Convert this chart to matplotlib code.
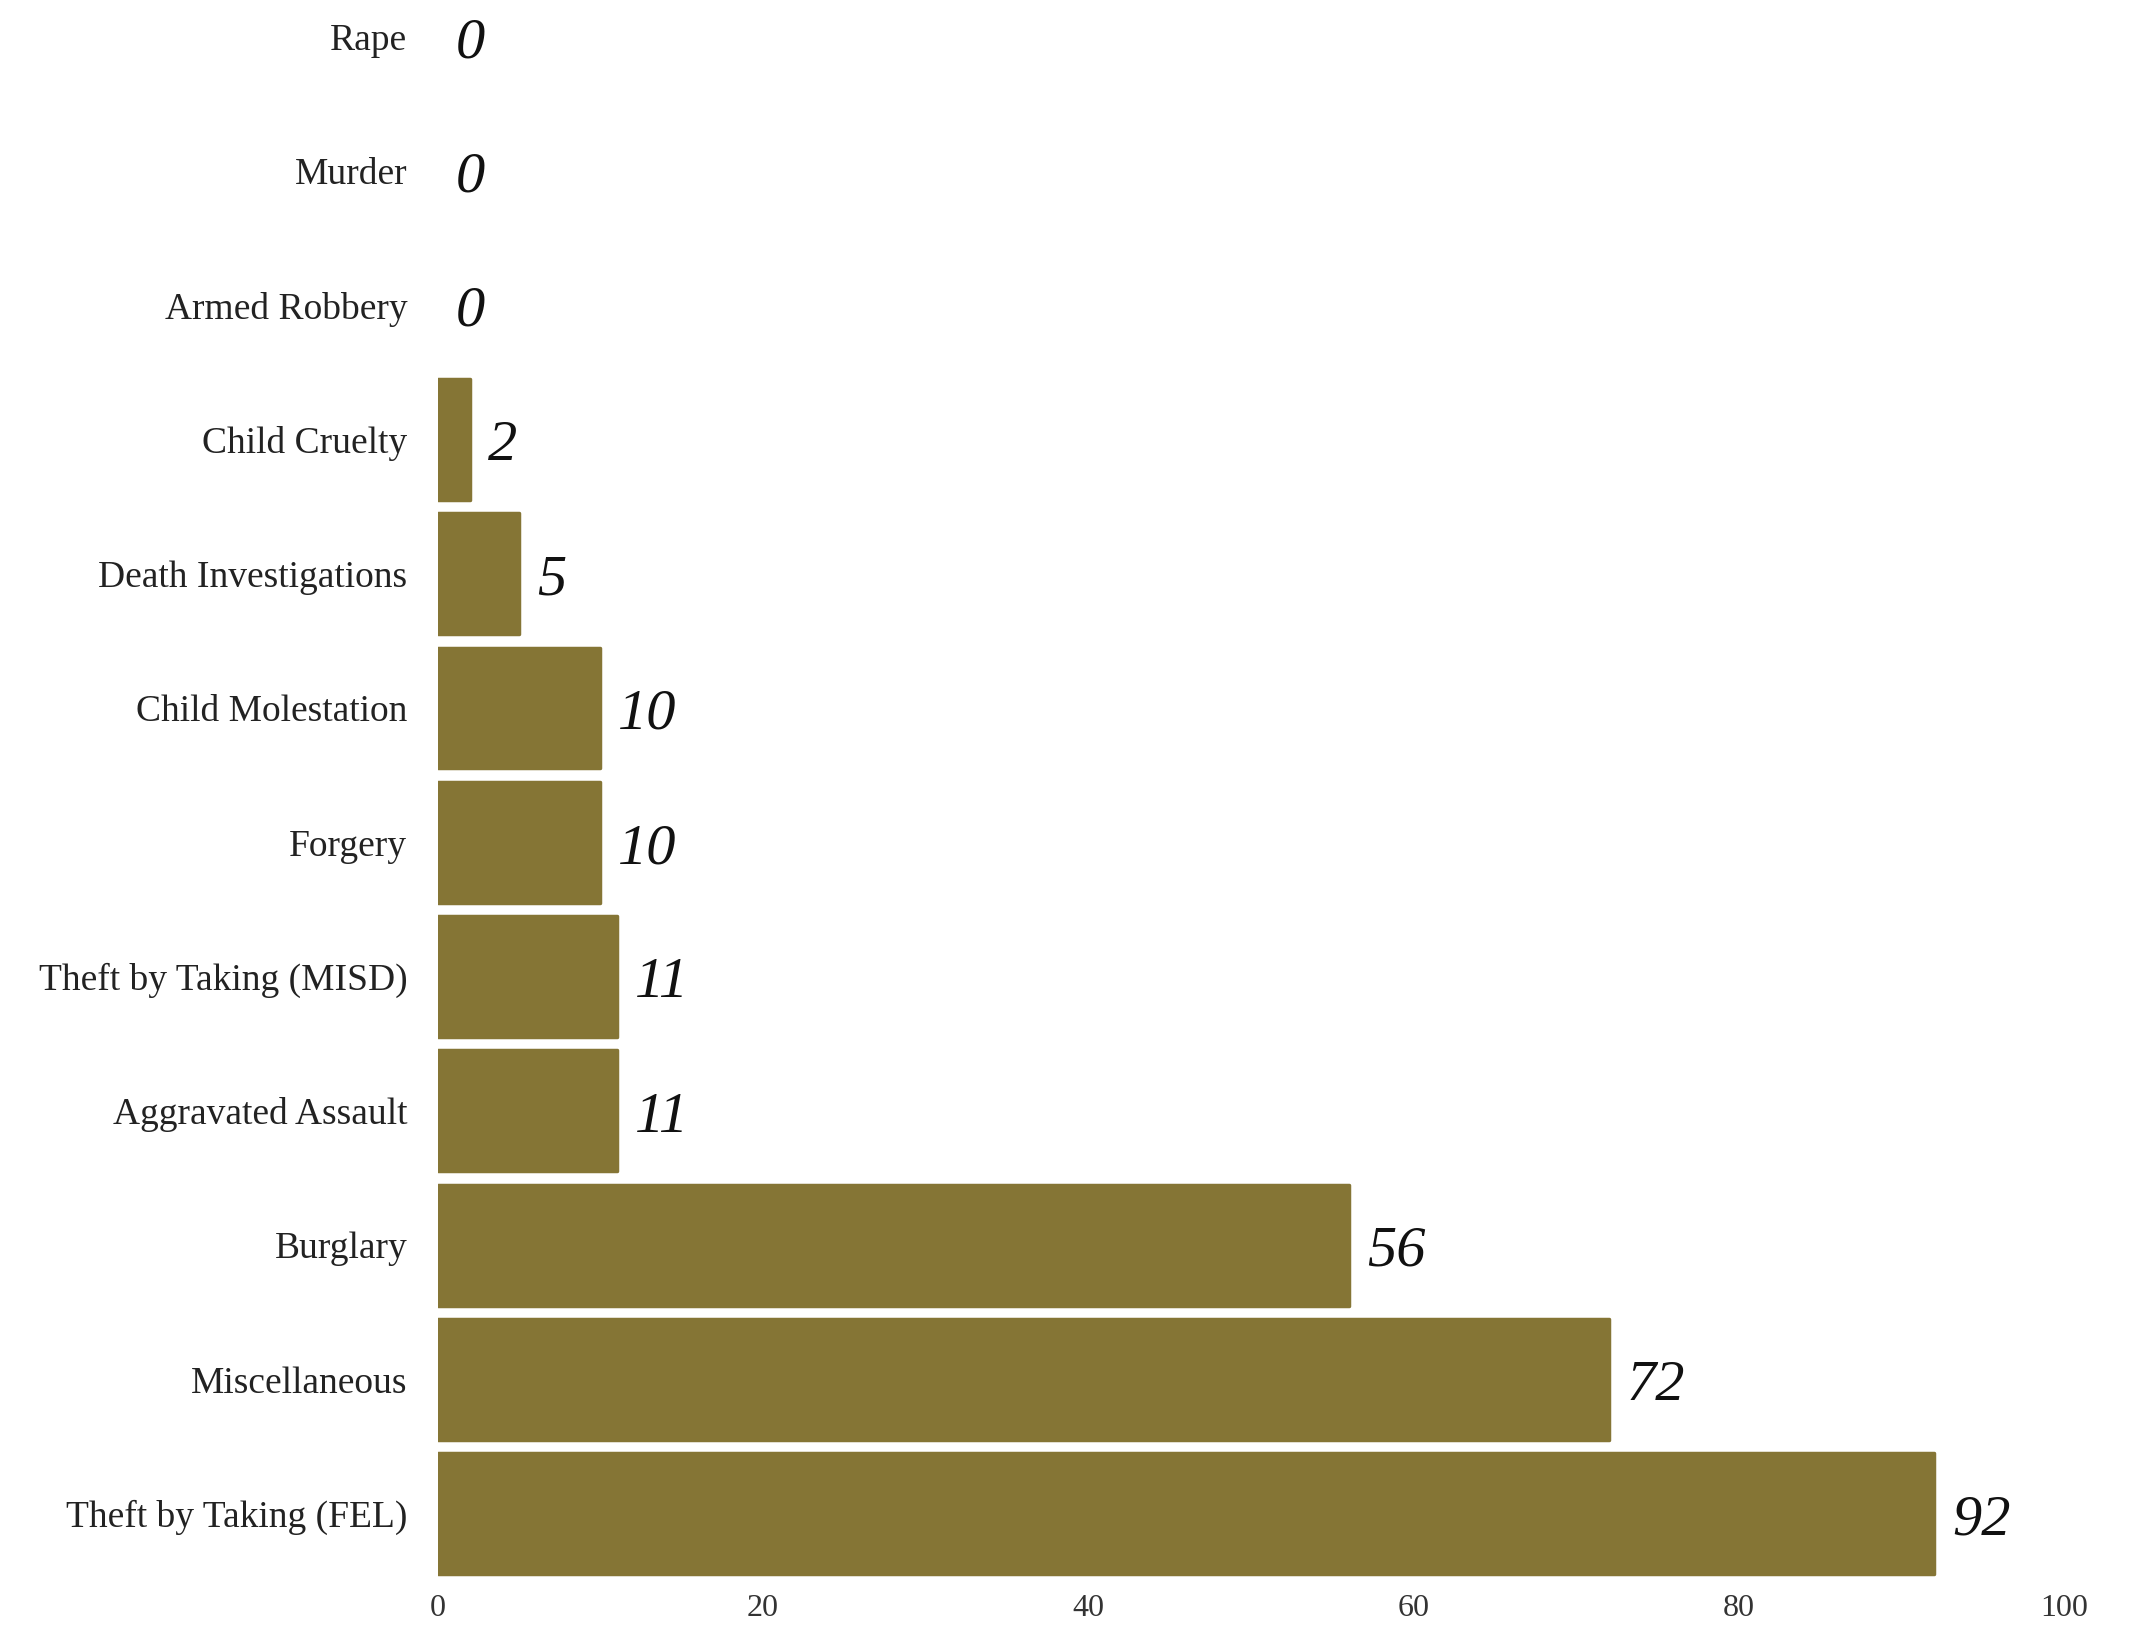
import matplotlib.pyplot as plt

# categories listed bottom to top
categories = [
    "Theft by Taking (FEL)",
    "Miscellaneous",
    "Burglary",
    "Aggravated Assault",
    "Theft by Taking (MISD)",
    "Forgery",
    "Child Molestation",
    "Death Investigations",
    "Child Cruelty",
    "Armed Robbery",
    "Murder",
    "Rape",
]
counts = [92, 72, 56, 11, 11, 10, 10, 5, 2, 0, 0, 0]
x_ticks = [0, 20, 40, 60, 80, 100]

bar_color = "#857535"

plt.rcParams["font.family"] = ["Liberation Serif", "DejaVu Serif"]

fig = plt.figure(figsize=(21.46, 16.29), dpi=100)
ax = fig.add_axes([0.204, 0.032, 0.758, 0.962])

ypos = list(range(len(categories)))
widths = [2.5 if v > 0 else 0 for v in counts]
ax.barh(ypos, counts, height=0.9, color=bar_color,
        edgecolor=bar_color, linewidth=widths, joinstyle="round")

for y, v in zip(ypos, counts):
    ax.text(v + 1.1, y - 0.05, str(v), fontsize=42, style="italic",
            ha="left", va="center", color="#111111")

ax.set_xlim(0, 100)
ax.set_ylim(-0.47, 11.2)
ax.set_xticks(x_ticks)
ax.set_xticklabels([str(t) for t in x_ticks], fontsize=23, color="#333333")
ax.set_yticks(ypos)
ax.set_yticklabels(categories, fontsize=27, color="#222222")
ax.tick_params(axis="both", length=0)
ax.tick_params(axis="y", pad=22)
ax.tick_params(axis="x", pad=12)
for s in ax.spines.values():
    s.set_visible(False)

fig.savefig("out.png", dpi=100)
